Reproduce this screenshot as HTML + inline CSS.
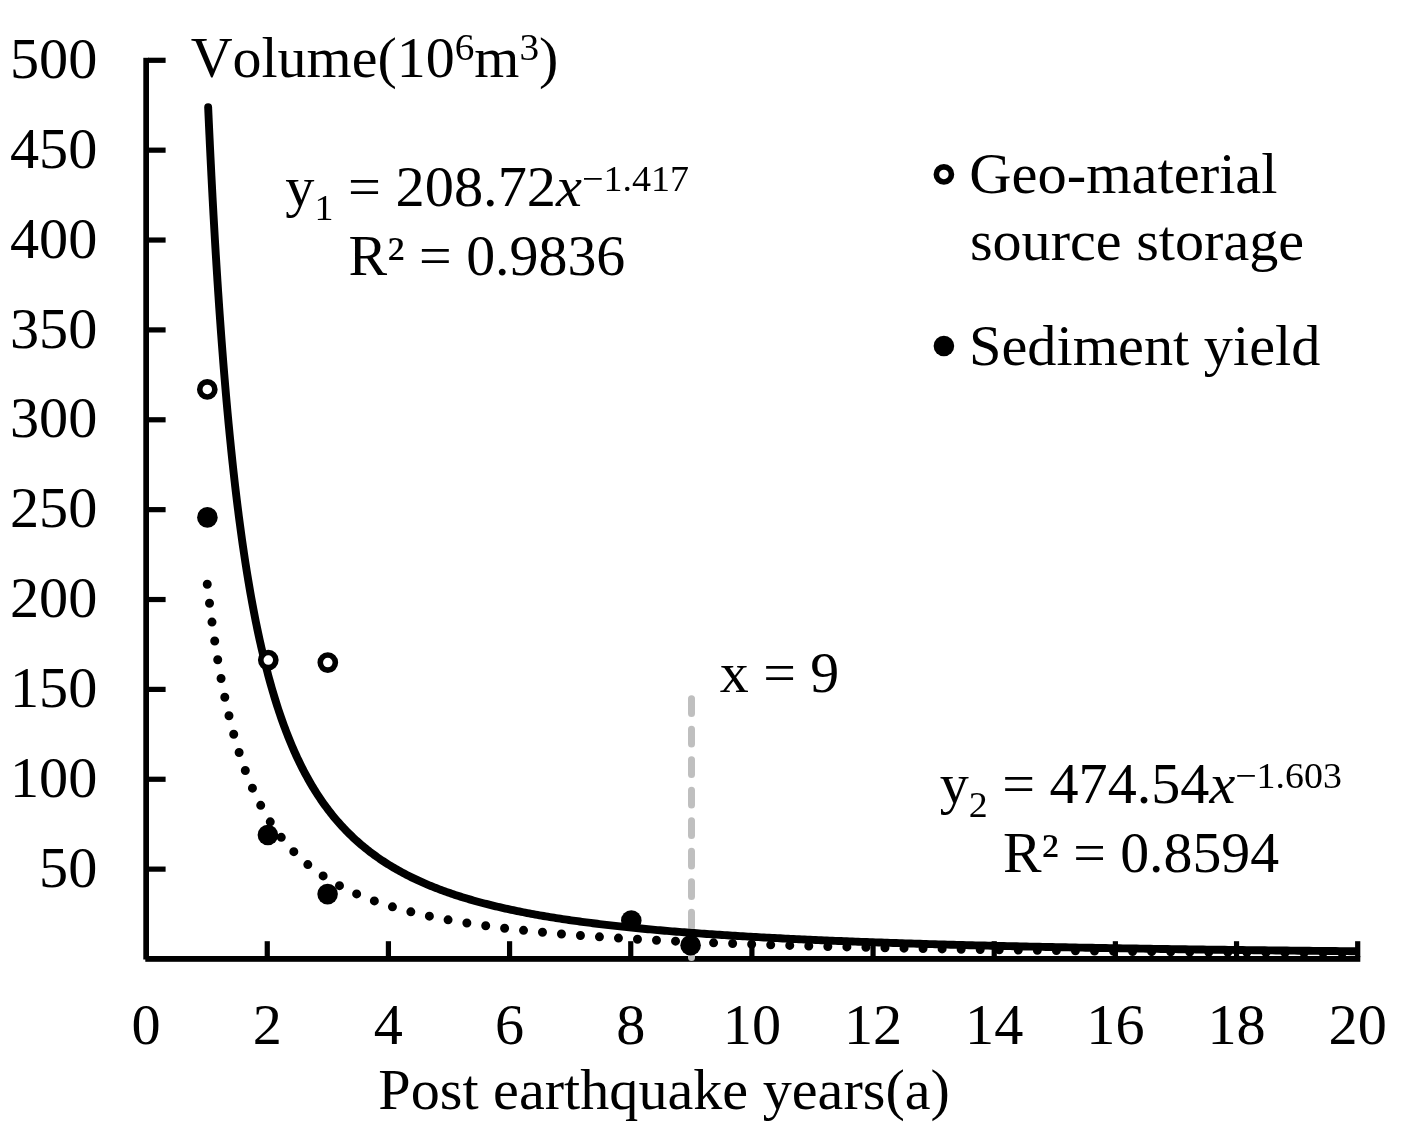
<!DOCTYPE html>
<html><head><meta charset="utf-8"><style>
html,body{margin:0;padding:0;background:#fff;}
svg{display:block;filter:grayscale(1);}
text{font-family:"Liberation Serif", serif;font-size:56px;fill:#000;font-kerning:none;font-feature-settings:"kern" 0;}
</style></head><body>
<svg width="1405" height="1132" viewBox="0 0 1405 1132">
<rect width="1405" height="1132" fill="#fff"/>
<rect x="143.3" y="57.8" width="5.7" height="901.7" fill="#000"/>
<rect x="145.3" y="956" width="1215" height="5.8" fill="#000"/>
<rect x="148" y="866.53" width="17.6" height="5.2" fill="#000"/>
<rect x="148" y="776.66" width="17.6" height="5.2" fill="#000"/>
<rect x="148" y="686.79" width="17.6" height="5.2" fill="#000"/>
<rect x="148" y="596.92" width="17.6" height="5.2" fill="#000"/>
<rect x="148" y="507.05" width="17.6" height="5.2" fill="#000"/>
<rect x="148" y="417.18" width="17.6" height="5.2" fill="#000"/>
<rect x="148" y="327.31" width="17.6" height="5.2" fill="#000"/>
<rect x="148" y="237.44" width="17.6" height="5.2" fill="#000"/>
<rect x="148" y="147.57" width="17.6" height="5.2" fill="#000"/>
<rect x="148" y="57.70" width="17.6" height="5.2" fill="#000"/>
<rect x="264.66" y="941.2" width="5.2" height="16" fill="#000"/>
<rect x="385.82" y="941.2" width="5.2" height="16" fill="#000"/>
<rect x="506.98" y="941.2" width="5.2" height="16" fill="#000"/>
<rect x="628.14" y="941.2" width="5.2" height="16" fill="#000"/>
<rect x="749.30" y="941.2" width="5.2" height="16" fill="#000"/>
<rect x="870.46" y="941.2" width="5.2" height="16" fill="#000"/>
<rect x="991.62" y="941.2" width="5.2" height="16" fill="#000"/>
<rect x="1112.78" y="941.2" width="5.2" height="16" fill="#000"/>
<rect x="1233.94" y="941.2" width="5.2" height="16" fill="#000"/>
<rect x="1355.10" y="941.2" width="5.2" height="16" fill="#000"/>
<line x1="691.5" y1="698.7" x2="691.5" y2="958.4" stroke="#bfbfbf" stroke-width="7" stroke-linecap="round" stroke-dasharray="14.7 15.8"/>
<defs><clipPath id="pc"><rect x="0" y="0" width="1358" height="1132"/></clipPath></defs>
<path clip-path="url(#pc)" d="M207.25,584.30 L207.25,584.33 L207.26,584.41 L207.28,584.55 L207.30,584.75 L207.33,585.00 L207.37,585.30 L207.41,585.66 L207.45,586.08 L207.51,586.55 L207.57,587.07 L207.64,587.65 L207.71,588.28 L207.79,588.96 L207.88,589.70 L207.97,590.48 L208.07,591.32 L208.17,592.21 L208.29,593.15 L208.40,594.13 L208.53,595.17 L208.66,596.25 L208.80,597.39 L208.94,598.56 L209.09,599.78 L209.25,601.05 L209.41,602.36 L209.58,603.71 L209.76,605.11 L209.94,606.54 L210.13,608.02 L210.32,609.53 L210.52,611.09 L210.73,612.68 L210.94,614.30 L211.16,615.96 L211.39,617.66 L211.62,619.38 L211.86,621.14 L212.11,622.93 L212.36,624.75 L212.62,626.60 L212.89,628.48 L213.16,630.38 L213.44,632.30 L213.72,634.26 L214.01,636.23 L214.31,638.23 L214.61,640.25 L214.92,642.29 L215.24,644.35 L215.56,646.42 L215.89,648.51 L216.23,650.62 L216.57,652.75 L216.92,654.89 L217.27,657.04 L217.63,659.20 L218.00,661.38 L218.37,663.56 L218.75,665.76 L219.14,667.96 L219.53,670.17 L219.93,672.39 L220.34,674.61 L220.75,676.84 L221.17,679.07 L221.60,681.31 L222.03,683.55 L222.46,685.79 L222.91,688.03 L223.36,690.27 L223.82,692.51 L224.28,694.75 L224.75,696.99 L225.23,699.22 L225.71,701.46 L226.20,703.68 L226.69,705.91 L227.19,708.13 L227.70,710.34 L228.22,712.55 L228.74,714.75 L229.27,716.95 L229.80,719.14 L230.34,721.31 L230.89,723.49 L231.44,725.65 L232.00,727.80 L232.56,729.94 L233.14,732.07 L233.71,734.20 L234.30,736.31 L234.89,738.41 L235.49,740.50 L236.09,742.57 L236.70,744.64 L237.32,746.69 L237.94,748.73 L238.57,750.76 L239.21,752.77 L239.85,754.77 L240.50,756.76 L241.15,758.73 L241.81,760.69 L242.48,762.64 L243.16,764.57 L243.84,766.48 L244.52,768.39 L245.22,770.27 L245.92,772.14 L246.62,774.00 L247.34,775.84 L248.06,777.67 L248.78,779.48 L249.51,781.28 L250.25,783.06 L251.00,784.83 L251.75,786.58 L252.50,788.32 L253.27,790.04 L254.04,791.74 L254.81,793.43 L255.60,795.10 L256.39,796.76 L257.18,798.41 L257.98,800.03 L258.79,801.65 L259.61,803.24 L260.43,804.82 L261.26,806.39 L262.09,807.94 L262.93,809.48 L263.78,811.00 L264.63,812.50 L265.49,813.99 L266.36,815.47 L267.23,816.93 L268.11,818.38 L268.99,819.81 L269.89,821.22 L270.78,822.63 L271.69,824.01 L272.60,825.39 L273.52,826.74 L274.44,828.09 L275.37,829.42 L276.31,830.73 L277.25,832.04 L278.20,833.32 L279.15,834.60 L280.12,835.86 L281.08,837.11 L282.06,838.34 L283.04,839.56 L284.03,840.77 L285.02,841.96 L286.02,843.14 L287.03,844.31 L288.04,845.47 L289.06,846.61 L290.09,847.74 L291.12,848.86 L292.16,849.96 L293.20,851.06 L294.25,852.14 L295.31,853.21 L296.37,854.26 L297.45,855.31 L298.52,856.34 L299.61,857.36 L300.70,858.37 L301.79,859.37 L302.89,860.36 L304.00,861.34 L305.12,862.30 L306.24,863.26 L307.37,864.20 L308.50,865.14 L309.64,866.06 L310.79,866.97 L311.94,867.88 L313.10,868.77 L314.27,869.65 L315.44,870.52 L316.62,871.39 L317.81,872.24 L319.00,873.08 L320.20,873.92 L321.40,874.74 L322.61,875.56 L323.83,876.36 L325.06,877.16 L326.29,877.94 L327.52,878.72 L328.77,879.49 L330.02,880.25 L331.27,881.01 L332.53,881.75 L333.80,882.49 L335.08,883.21 L336.36,883.93 L337.65,884.64 L338.94,885.35 L340.24,886.04 L341.55,886.73 L342.86,887.41 L344.18,888.08 L345.51,888.74 L346.84,889.40 L348.18,890.05 L349.53,890.69 L350.88,891.33 L352.24,891.96 L353.60,892.58 L354.97,893.19 L356.35,893.80 L357.73,894.40 L359.12,894.99 L360.52,895.58 L361.92,896.16 L363.33,896.73 L364.75,897.30 L366.17,897.86 L367.60,898.42 L369.03,898.96 L370.47,899.51 L371.92,900.04 L373.37,900.57 L374.84,901.10 L376.30,901.62 L377.78,902.13 L379.26,902.64 L380.74,903.14 L382.23,903.64 L383.73,904.13 L385.24,904.62 L386.75,905.10 L388.27,905.57 L389.79,906.04 L391.32,906.51 L392.86,906.97 L394.40,907.42 L395.95,907.87 L397.51,908.32 L399.07,908.76 L400.64,909.19 L402.22,909.62 L403.80,910.05 L405.39,910.47 L406.98,910.89 L408.58,911.30 L410.19,911.71 L411.80,912.11 L413.42,912.51 L415.05,912.91 L416.68,913.30 L418.32,913.68 L419.97,914.07 L421.62,914.44 L423.28,914.82 L424.94,915.19 L426.62,915.56 L428.29,915.92 L429.98,916.28 L431.67,916.63 L433.36,916.98 L435.07,917.33 L436.78,917.68 L438.49,918.02 L440.22,918.35 L441.94,918.69 L443.68,919.02 L445.42,919.34 L447.17,919.67 L448.92,919.99 L450.69,920.30 L452.45,920.62 L454.23,920.93 L456.01,921.23 L457.79,921.54 L459.59,921.84 L461.38,922.14 L463.19,922.43 L465.00,922.72 L466.82,923.01 L468.65,923.30 L470.48,923.58 L472.31,923.86 L474.16,924.14 L476.01,924.41 L477.86,924.68 L479.73,924.95 L481.60,925.22 L483.47,925.48 L485.36,925.74 L487.24,926.00 L489.14,926.26 L491.04,926.51 L492.95,926.76 L494.86,927.01 L496.78,927.25 L498.71,927.50 L500.64,927.74 L502.58,927.98 L504.53,928.21 L506.48,928.45 L508.44,928.68 L510.41,928.91 L512.38,929.13 L514.36,929.36 L516.34,929.58 L518.33,929.80 L520.33,930.02 L522.33,930.24 L524.34,930.45 L526.36,930.66 L528.38,930.87 L530.41,931.08 L532.45,931.29 L534.49,931.49 L536.54,931.69 L538.59,931.89 L540.65,932.09 L542.72,932.29 L544.80,932.48 L546.88,932.67 L548.96,932.87 L551.06,933.05 L553.16,933.24 L555.26,933.43 L557.37,933.61 L559.49,933.79 L561.62,933.97 L563.75,934.15 L565.89,934.33 L568.03,934.51 L570.18,934.68 L572.34,934.85 L574.50,935.02 L576.67,935.19 L578.85,935.36 L581.03,935.52 L583.22,935.69 L585.42,935.85 L587.62,936.01 L589.83,936.17 L592.04,936.33 L594.26,936.49 L596.49,936.64 L598.72,936.80 L600.96,936.95 L603.21,937.10 L605.46,937.25 L607.72,937.40 L609.99,937.55 L612.26,937.69 L614.54,937.84 L616.82,937.98 L619.11,938.13 L621.41,938.27 L623.72,938.41 L626.03,938.54 L628.34,938.68 L630.67,938.82 L633.00,938.95 L635.33,939.09 L637.67,939.22 L640.02,939.35 L642.38,939.48 L644.74,939.61 L647.11,939.74 L649.48,939.86 L651.86,939.99 L654.25,940.11 L656.64,940.24 L659.04,940.36 L661.45,940.48 L663.86,940.60 L666.28,940.72 L668.71,940.84 L671.14,940.96 L673.58,941.07 L676.02,941.19 L678.47,941.30 L680.93,941.42 L683.40,941.53 L685.87,941.64 L688.34,941.75 L690.83,941.86 L693.32,941.97 L695.81,942.08 L698.31,942.18 L700.82,942.29 L703.34,942.39 L705.86,942.50 L708.39,942.60 L710.92,942.71 L713.46,942.81 L716.01,942.91 L718.56,943.01 L721.12,943.11 L723.69,943.20 L726.26,943.30 L728.84,943.40 L731.42,943.50 L734.02,943.59 L736.61,943.68 L739.22,943.78 L741.83,943.87 L744.45,943.96 L747.07,944.05 L749.70,944.15 L752.34,944.23 L754.98,944.32 L757.63,944.41 L760.28,944.50 L762.95,944.59 L765.61,944.67 L768.29,944.76 L770.97,944.84 L773.66,944.93 L776.35,945.01 L779.05,945.09 L781.76,945.18 L784.47,945.26 L787.19,945.34 L789.92,945.42 L792.65,945.50 L795.39,945.58 L798.13,945.66 L800.89,945.74 L803.64,945.81 L806.41,945.89 L809.18,945.97 L811.96,946.04 L814.74,946.12 L817.53,946.19 L820.32,946.26 L823.13,946.34 L825.94,946.41 L828.75,946.48 L831.57,946.55 L834.40,946.62 L837.24,946.69 L840.08,946.76 L842.92,946.83 L845.78,946.90 L848.64,946.97 L851.51,947.04 L854.38,947.11 L857.26,947.17 L860.14,947.24 L863.04,947.30 L865.93,947.37 L868.84,947.43 L871.75,947.50 L874.67,947.56 L877.59,947.63 L880.52,947.69 L883.46,947.75 L886.40,947.81 L889.35,947.87 L892.31,947.94 L895.27,948.00 L898.24,948.06 L901.21,948.12 L904.20,948.18 L907.18,948.23 L910.18,948.29 L913.18,948.35 L916.19,948.41 L919.20,948.47 L922.22,948.52 L925.25,948.58 L928.28,948.63 L931.32,948.69 L934.36,948.74 L937.42,948.80 L940.47,948.85 L943.54,948.91 L946.61,948.96 L949.69,949.01 L952.77,949.07 L955.86,949.12 L958.96,949.17 L962.06,949.22 L965.17,949.27 L968.29,949.33 L971.41,949.38 L974.54,949.43 L977.67,949.48 L980.81,949.53 L983.96,949.57 L987.11,949.62 L990.28,949.67 L993.44,949.72 L996.62,949.77 L999.80,949.81 L1002.98,949.86 L1006.17,949.91 L1009.37,949.96 L1012.58,950.00 L1015.79,950.05 L1019.01,950.09 L1022.23,950.14 L1025.46,950.18 L1028.70,950.23 L1031.94,950.27 L1035.19,950.32 L1038.45,950.36 L1041.71,950.40 L1044.98,950.45 L1048.26,950.49 L1051.54,950.53 L1054.83,950.57 L1058.12,950.61 L1061.42,950.66 L1064.73,950.70 L1068.05,950.74 L1071.37,950.78 L1074.69,950.82 L1078.03,950.86 L1081.37,950.90 L1084.71,950.94 L1088.06,950.98 L1091.42,951.02 L1094.79,951.06 L1098.16,951.10 L1101.54,951.13 L1104.92,951.17 L1108.31,951.21 L1111.71,951.25 L1115.11,951.29 L1118.52,951.32 L1121.94,951.36 L1125.36,951.40 L1128.79,951.43 L1132.22,951.47 L1135.67,951.50 L1139.11,951.54 L1142.57,951.58 L1146.03,951.61 L1149.50,951.65 L1152.97,951.68 L1156.45,951.72 L1159.94,951.75 L1163.43,951.78 L1166.93,951.82 L1170.44,951.85 L1173.95,951.89 L1177.47,951.92 L1180.99,951.95 L1184.52,951.98 L1188.06,952.02 L1191.60,952.05 L1195.15,952.08 L1198.71,952.11 L1202.27,952.15 L1205.84,952.18 L1209.42,952.21 L1213.00,952.24 L1216.59,952.27 L1220.19,952.30 L1223.79,952.33 L1227.40,952.36 L1231.01,952.39 L1234.63,952.42 L1238.26,952.45 L1241.89,952.48 L1245.53,952.51 L1249.18,952.54 L1252.83,952.57 L1256.49,952.60 L1260.15,952.63 L1263.83,952.66 L1267.50,952.69 L1271.19,952.71 L1274.88,952.74 L1278.58,952.77 L1282.28,952.80 L1285.99,952.82 L1289.71,952.85 L1293.43,952.88 L1297.16,952.91 L1300.90,952.93 L1304.64,952.96 L1308.39,952.99 L1312.14,953.01 L1315.90,953.04 L1319.67,953.06 L1323.45,953.09 L1327.23,953.12 L1331.01,953.14 L1334.81,953.17 L1338.61,953.19 L1342.41,953.22 L1346.22,953.24 L1350.04,953.27 L1353.87,953.29 L1357.70,953.32" fill="none" stroke="#000" stroke-width="9" stroke-linecap="round" stroke-dasharray="0 19.05"/>
<path clip-path="url(#pc)" d="M208.15,107.20 L208.15,107.27 L208.16,107.49 L208.18,107.85 L208.20,108.35 L208.23,108.99 L208.27,109.78 L208.31,110.70 L208.35,111.77 L208.41,112.98 L208.47,114.33 L208.54,115.81 L208.61,117.43 L208.69,119.19 L208.78,121.08 L208.87,123.10 L208.97,125.25 L209.07,127.53 L209.19,129.94 L209.30,132.47 L209.43,135.13 L209.56,137.91 L209.70,140.81 L209.84,143.82 L209.99,146.95 L210.15,150.19 L210.31,153.54 L210.48,157.00 L210.66,160.57 L210.84,164.24 L211.03,168.00 L211.22,171.87 L211.42,175.83 L211.63,179.88 L211.84,184.02 L212.06,188.24 L212.29,192.55 L212.52,196.94 L212.76,201.41 L213.01,205.95 L213.26,210.57 L213.52,215.25 L213.79,220.00 L214.06,224.81 L214.34,229.69 L214.62,234.62 L214.91,239.61 L215.21,244.65 L215.51,249.74 L215.82,254.87 L216.14,260.05 L216.46,265.27 L216.79,270.53 L217.13,275.82 L217.47,281.15 L217.82,286.51 L218.17,291.89 L218.53,297.30 L218.90,302.74 L219.27,308.19 L219.65,313.66 L220.04,319.15 L220.43,324.65 L220.83,330.16 L221.24,335.68 L221.65,341.21 L222.07,346.74 L222.50,352.27 L222.93,357.81 L223.36,363.34 L223.81,368.87 L224.26,374.40 L224.72,379.91 L225.18,385.42 L225.65,390.92 L226.13,396.40 L226.61,401.88 L227.10,407.33 L227.59,412.77 L228.09,418.19 L228.60,423.59 L229.12,428.97 L229.64,434.33 L230.17,439.67 L230.70,444.98 L231.24,450.26 L231.79,455.52 L232.34,460.75 L232.90,465.95 L233.46,471.12 L234.04,476.26 L234.61,481.37 L235.20,486.44 L235.79,491.49 L236.39,496.49 L236.99,501.47 L237.60,506.41 L238.22,511.31 L238.84,516.18 L239.47,521.01 L240.11,525.80 L240.75,530.55 L241.40,535.27 L242.05,539.95 L242.71,544.58 L243.38,549.18 L244.06,553.74 L244.74,558.26 L245.42,562.74 L246.12,567.18 L246.82,571.58 L247.52,575.93 L248.24,580.25 L248.96,584.52 L249.68,588.76 L250.41,592.95 L251.15,597.10 L251.90,601.21 L252.65,605.28 L253.40,609.31 L254.17,613.30 L254.94,617.24 L255.71,621.15 L256.50,625.01 L257.29,628.84 L258.08,632.62 L258.88,636.36 L259.69,640.06 L260.51,643.72 L261.33,647.34 L262.16,650.93 L262.99,654.47 L263.83,657.97 L264.68,661.43 L265.53,664.86 L266.39,668.24 L267.26,671.59 L268.13,674.90 L269.01,678.17 L269.89,681.40 L270.79,684.59 L271.68,687.75 L272.59,690.87 L273.50,693.96 L274.42,697.00 L275.34,700.02 L276.27,702.99 L277.21,705.93 L278.15,708.84 L279.10,711.71 L280.05,714.54 L281.02,717.35 L281.98,720.11 L282.96,722.85 L283.94,725.55 L284.93,728.22 L285.92,730.85 L286.92,733.46 L287.93,736.03 L288.94,738.57 L289.96,741.08 L290.99,743.55 L292.02,746.00 L293.06,748.42 L294.10,750.80 L295.15,753.16 L296.21,755.49 L297.27,757.79 L298.35,760.06 L299.42,762.30 L300.51,764.52 L301.60,766.70 L302.69,768.86 L303.79,770.99 L304.90,773.10 L306.02,775.18 L307.14,777.23 L308.27,779.26 L309.40,781.26 L310.54,783.24 L311.69,785.19 L312.84,787.11 L314.00,789.02 L315.17,790.90 L316.34,792.75 L317.52,794.58 L318.71,796.39 L319.90,798.18 L321.10,799.94 L322.30,801.68 L323.51,803.40 L324.73,805.10 L325.96,806.78 L327.19,808.43 L328.42,810.07 L329.67,811.68 L330.92,813.28 L332.17,814.85 L333.43,816.40 L334.70,817.94 L335.98,819.45 L337.26,820.95 L338.55,822.43 L339.84,823.89 L341.14,825.33 L342.45,826.75 L343.76,828.16 L345.08,829.54 L346.41,830.91 L347.74,832.27 L349.08,833.60 L350.43,834.92 L351.78,836.22 L353.14,837.51 L354.50,838.78 L355.87,840.04 L357.25,841.28 L358.63,842.50 L360.02,843.71 L361.42,844.90 L362.82,846.08 L364.23,847.25 L365.65,848.40 L367.07,849.53 L368.50,850.66 L369.93,851.76 L371.37,852.86 L372.82,853.94 L374.27,855.01 L375.74,856.06 L377.20,857.10 L378.68,858.13 L380.16,859.15 L381.64,860.16 L383.13,861.15 L384.63,862.13 L386.14,863.10 L387.65,864.05 L389.17,865.00 L390.69,865.93 L392.22,866.85 L393.76,867.76 L395.30,868.67 L396.85,869.55 L398.41,870.43 L399.97,871.30 L401.54,872.16 L403.12,873.01 L404.70,873.84 L406.29,874.67 L407.88,875.49 L409.48,876.30 L411.09,877.10 L412.70,877.89 L414.32,878.67 L415.95,879.44 L417.58,880.20 L419.22,880.95 L420.87,881.69 L422.52,882.43 L424.18,883.15 L425.84,883.87 L427.52,884.58 L429.19,885.28 L430.88,885.98 L432.57,886.66 L434.26,887.34 L435.97,888.01 L437.68,888.67 L439.39,889.32 L441.12,889.97 L442.84,890.61 L444.58,891.24 L446.32,891.86 L448.07,892.48 L449.82,893.09 L451.59,893.69 L453.35,894.29 L455.13,894.88 L456.91,895.46 L458.69,896.04 L460.49,896.61 L462.28,897.17 L464.09,897.73 L465.90,898.28 L467.72,898.82 L469.55,899.36 L471.38,899.89 L473.21,900.42 L475.06,900.94 L476.91,901.45 L478.76,901.96 L480.63,902.47 L482.50,902.96 L484.37,903.46 L486.26,903.94 L488.14,904.43 L490.04,904.90 L491.94,905.37 L493.85,905.84 L495.76,906.30 L497.68,906.76 L499.61,907.21 L501.54,907.65 L503.48,908.09 L505.43,908.53 L507.38,908.96 L509.34,909.39 L511.31,909.81 L513.28,910.23 L515.26,910.64 L517.24,911.05 L519.23,911.45 L521.23,911.85 L523.23,912.25 L525.24,912.64 L527.26,913.03 L529.28,913.41 L531.31,913.79 L533.35,914.17 L535.39,914.54 L537.44,914.91 L539.49,915.27 L541.55,915.63 L543.62,915.99 L545.70,916.34 L547.78,916.69 L549.86,917.03 L551.96,917.37 L554.06,917.71 L556.16,918.05 L558.27,918.38 L560.39,918.70 L562.52,919.03 L564.65,919.35 L566.79,919.67 L568.93,919.98 L571.08,920.29 L573.24,920.60 L575.40,920.91 L577.57,921.21 L579.75,921.51 L581.93,921.80 L584.12,922.09 L586.32,922.38 L588.52,922.67 L590.73,922.95 L592.94,923.24 L595.16,923.51 L597.39,923.79 L599.62,924.06 L601.86,924.33 L604.11,924.60 L606.36,924.86 L608.62,925.13 L610.89,925.39 L613.16,925.64 L615.44,925.90 L617.72,926.15 L620.01,926.40 L622.31,926.65 L624.62,926.89 L626.93,927.13 L629.24,927.37 L631.57,927.61 L633.90,927.84 L636.23,928.08 L638.57,928.31 L640.92,928.54 L643.28,928.76 L645.64,928.99 L648.01,929.21 L650.38,929.43 L652.76,929.65 L655.15,929.86 L657.54,930.08 L659.94,930.29 L662.35,930.50 L664.76,930.70 L667.18,930.91 L669.61,931.11 L672.04,931.32 L674.48,931.52 L676.92,931.71 L679.37,931.91 L681.83,932.10 L684.30,932.30 L686.77,932.49 L689.24,932.68 L691.73,932.86 L694.22,933.05 L696.71,933.23 L699.21,933.42 L701.72,933.60 L704.24,933.77 L706.76,933.95 L709.29,934.13 L711.82,934.30 L714.36,934.47 L716.91,934.64 L719.46,934.81 L722.02,934.98 L724.59,935.15 L727.16,935.31 L729.74,935.47 L732.32,935.64 L734.92,935.80 L737.51,935.96 L740.12,936.11 L742.73,936.27 L745.35,936.42 L747.97,936.58 L750.60,936.73 L753.24,936.88 L755.88,937.03 L758.53,937.18 L761.18,937.32 L763.85,937.47 L766.51,937.61 L769.19,937.75 L771.87,937.90 L774.56,938.04 L777.25,938.17 L779.95,938.31 L782.66,938.45 L785.37,938.58 L788.09,938.72 L790.82,938.85 L793.55,938.98 L796.29,939.11 L799.03,939.24 L801.79,939.37 L804.54,939.50 L807.31,939.63 L810.08,939.75 L812.86,939.88 L815.64,940.00 L818.43,940.12 L821.22,940.24 L824.03,940.36 L826.84,940.48 L829.65,940.60 L832.47,940.72 L835.30,940.83 L838.14,940.95 L840.98,941.06 L843.82,941.17 L846.68,941.29 L849.54,941.40 L852.41,941.51 L855.28,941.62 L858.16,941.73 L861.04,941.83 L863.94,941.94 L866.83,942.05 L869.74,942.15 L872.65,942.25 L875.57,942.36 L878.49,942.46 L881.42,942.56 L884.36,942.66 L887.30,942.76 L890.25,942.86 L893.21,942.96 L896.17,943.06 L899.14,943.15 L902.11,943.25 L905.10,943.34 L908.08,943.44 L911.08,943.53 L914.08,943.63 L917.09,943.72 L920.10,943.81 L923.12,943.90 L926.15,943.99 L929.18,944.08 L932.22,944.17 L935.26,944.25 L938.32,944.34 L941.37,944.43 L944.44,944.51 L947.51,944.60 L950.59,944.68 L953.67,944.77 L956.76,944.85 L959.86,944.93 L962.96,945.01 L966.07,945.10 L969.19,945.18 L972.31,945.26 L975.44,945.33 L978.57,945.41 L981.71,945.49 L984.86,945.57 L988.01,945.65 L991.18,945.72 L994.34,945.80 L997.52,945.87 L1000.70,945.95 L1003.88,946.02 L1007.07,946.09 L1010.27,946.17 L1013.48,946.24 L1016.69,946.31 L1019.91,946.38 L1023.13,946.45 L1026.36,946.52 L1029.60,946.59 L1032.84,946.66 L1036.09,946.73 L1039.35,946.80 L1042.61,946.87 L1045.88,946.93 L1049.16,947.00 L1052.44,947.06 L1055.73,947.13 L1059.02,947.20 L1062.32,947.26 L1065.63,947.32 L1068.95,947.39 L1072.27,947.45 L1075.59,947.51 L1078.93,947.58 L1082.27,947.64 L1085.61,947.70 L1088.96,947.76 L1092.32,947.82 L1095.69,947.88 L1099.06,947.94 L1102.44,948.00 L1105.82,948.06 L1109.21,948.11 L1112.61,948.17 L1116.01,948.23 L1119.42,948.29 L1122.84,948.34 L1126.26,948.40 L1129.69,948.46 L1133.12,948.51 L1136.57,948.57 L1140.01,948.62 L1143.47,948.67 L1146.93,948.73 L1150.40,948.78 L1153.87,948.83 L1157.35,948.89 L1160.84,948.94 L1164.33,948.99 L1167.83,949.04 L1171.34,949.09 L1174.85,949.14 L1178.37,949.19 L1181.89,949.24 L1185.42,949.29 L1188.96,949.34 L1192.50,949.39 L1196.05,949.44 L1199.61,949.49 L1203.17,949.54 L1206.74,949.59 L1210.32,949.63 L1213.90,949.68 L1217.49,949.73 L1221.09,949.77 L1224.69,949.82 L1228.30,949.86 L1231.91,949.91 L1235.53,949.95 L1239.16,950.00 L1242.79,950.04 L1246.43,950.09 L1250.08,950.13 L1253.73,950.18 L1257.39,950.22 L1261.05,950.26 L1264.73,950.30 L1268.40,950.35 L1272.09,950.39 L1275.78,950.43 L1279.48,950.47 L1283.18,950.51 L1286.89,950.55 L1290.61,950.60 L1294.33,950.64 L1298.06,950.68 L1301.80,950.72 L1305.54,950.76 L1309.29,950.79 L1313.04,950.83 L1316.80,950.87 L1320.57,950.91 L1324.35,950.95 L1328.13,950.99 L1331.91,951.03 L1335.71,951.06 L1339.51,951.10 L1343.31,951.14 L1347.12,951.17 L1350.94,951.21 L1354.77,951.25 L1358.60,951.28" fill="none" stroke="#000" stroke-width="7.9" stroke-linecap="round" stroke-linejoin="round"/>
<circle cx="207.3" cy="389.4" r="7.55" fill="#fff" stroke="#000" stroke-width="5.6"/>
<circle cx="268.3" cy="660.1" r="7.55" fill="#fff" stroke="#000" stroke-width="5.6"/>
<circle cx="327.8" cy="662.6" r="7.55" fill="#fff" stroke="#000" stroke-width="5.6"/>
<circle cx="207.4" cy="517.4" r="10.3" fill="#000"/>
<circle cx="267.9" cy="835.0" r="10.3" fill="#000"/>
<circle cx="327.6" cy="894.1" r="10.3" fill="#000"/>
<circle cx="631.3" cy="920.6" r="10.3" fill="#000"/>
<circle cx="690.6" cy="945.3" r="10.3" fill="#000"/>
<text transform="translate(97.30,886.83) scale(1.0400,1)" text-anchor="end">50</text>
<text transform="translate(97.30,796.96) scale(1.0400,1)" text-anchor="end">100</text>
<text transform="translate(97.30,707.09) scale(1.0400,1)" text-anchor="end">150</text>
<text transform="translate(97.30,617.22) scale(1.0400,1)" text-anchor="end">200</text>
<text transform="translate(97.30,527.35) scale(1.0400,1)" text-anchor="end">250</text>
<text transform="translate(97.30,437.48) scale(1.0400,1)" text-anchor="end">300</text>
<text transform="translate(97.30,347.61) scale(1.0400,1)" text-anchor="end">350</text>
<text transform="translate(97.30,257.74) scale(1.0400,1)" text-anchor="end">400</text>
<text transform="translate(97.30,167.87) scale(1.0400,1)" text-anchor="end">450</text>
<text transform="translate(97.30,78.00) scale(1.0400,1)" text-anchor="end">500</text>
<text transform="translate(146.10,1043.50) scale(1.0400,1)" text-anchor="middle">0</text>
<text transform="translate(267.26,1043.50) scale(1.0400,1)" text-anchor="middle">2</text>
<text transform="translate(388.42,1043.50) scale(1.0400,1)" text-anchor="middle">4</text>
<text transform="translate(509.58,1043.50) scale(1.0400,1)" text-anchor="middle">6</text>
<text transform="translate(630.74,1043.50) scale(1.0400,1)" text-anchor="middle">8</text>
<text transform="translate(751.90,1043.50) scale(1.0400,1)" text-anchor="middle">10</text>
<text transform="translate(873.06,1043.50) scale(1.0400,1)" text-anchor="middle">12</text>
<text transform="translate(994.22,1043.50) scale(1.0400,1)" text-anchor="middle">14</text>
<text transform="translate(1115.38,1043.50) scale(1.0400,1)" text-anchor="middle">16</text>
<text transform="translate(1236.54,1043.50) scale(1.0400,1)" text-anchor="middle">18</text>
<text transform="translate(1357.70,1043.50) scale(1.0400,1)" text-anchor="middle">20</text>
<text transform="translate(190.66,77.10) scale(1.0354,1)">Volume(10<tspan font-size="38" dy="-17.6">6</tspan><tspan dy="17.6">m</tspan><tspan font-size="38" dy="-17.6">3</tspan><tspan dy="17.6">)</tspan></text>
<text transform="translate(378.34,1108.70) scale(1.0389,1)">Post earthquake years(a)</text>
<text transform="translate(285.28,206.30) scale(1.0421,1)">y<tspan font-size="36.5" dy="13.5">1</tspan><tspan dy="-13.5"> = 208.72</tspan><tspan font-style="italic">x</tspan><tspan font-size="36.5" dy="-15.6">−1.417</tspan></text>
<text transform="translate(348.61,274.90) scale(1.0335,1)">R² = 0.9836</text>
<text transform="translate(939.67,803.20) scale(1.0383,1)">y<tspan font-size="36.5" dy="13.5">2</tspan><tspan dy="-13.5"> = 474.54</tspan><tspan font-style="italic">x</tspan><tspan font-size="36.5" dy="-15.6">−1.603</tspan></text>
<text transform="translate(1002.91,871.50) scale(1.0318,1)">R² = 0.8594</text>
<text transform="translate(719.71,691.80) scale(1.0341,1)">x = 9</text>
<circle cx="943.9" cy="174.4" r="7.55" fill="#fff" stroke="#000" stroke-width="5.6"/>
<circle cx="943.9" cy="346.0" r="10.3" fill="#000"/>
<text transform="translate(969.34,193.30) scale(1.0436,1)">Geo-material</text>
<text transform="translate(969.90,259.80) scale(1.0386,1)">source storage</text>
<text transform="translate(969.07,364.60) scale(1.0412,1)">Sediment yield</text>
</svg>
</body></html>
